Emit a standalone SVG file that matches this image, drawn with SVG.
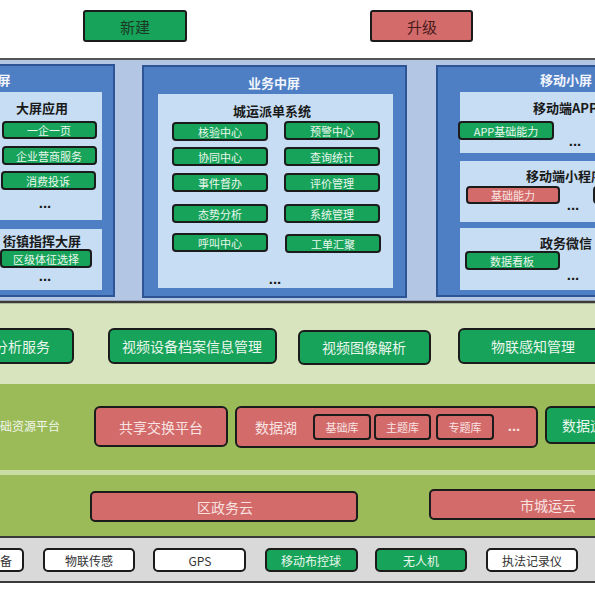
<svg xmlns="http://www.w3.org/2000/svg" width="595" height="595" viewBox="0 0 595 595">
<style>
text{font-family:"Noto Sans CJK SC","Noto Sans",sans-serif;text-anchor:middle;dominant-baseline:central}
.g{fill:#17A35A;stroke:#1b1b1b;stroke-width:2}
.r{fill:#D36B6A;stroke:#1b1b1b;stroke-width:2}
.w{fill:#ffffff;stroke:#1b1b1b;stroke-width:2}
.panel{fill:#4E7EC4;stroke:#2D5596;stroke-width:2}
.inner{fill:#C6DDF3}
.bt{font-size:11px;fill:#EAF7EE}
.bb{font-size:12px;fill:#EAF7EE}
.bl{font-size:14px;fill:#EAF7EE}
.bk{font-size:12px;fill:#333}
.ttl{font-size:13px;font-weight:bold;fill:#1a1a1a}
.pt{font-size:13px;font-weight:bold;fill:#F2F6FC}
text.dots{font-family:"Liberation Sans",Arial,sans-serif;font-size:15px;font-weight:bold;fill:#1a1a1a;dominant-baseline:alphabetic}
</style>
<rect width="595" height="595" fill="#ffffff"/>
<!-- legend -->
<g id="legend-new"><rect class="g" x="84" y="11" width="102" height="30" rx="2"/><text x="135" y="26" style="font-size:15px;fill:#1a3a25">新建</text></g>
<g id="legend-upgrade"><rect class="r" x="371" y="11" width="101" height="30" rx="2"/><text x="422" y="26" style="font-size:15px;fill:#4a1a1a">升级</text></g>

<!-- top section background -->
<rect x="0" y="59" width="595" height="242" fill="#B3C7E5"/>
<line x1="0" y1="59" x2="595" y2="59" stroke="#555" stroke-width="2"/>

<!-- left panel -->
<g id="panel-big">
<rect class="panel" x="-10" y="65" width="124" height="231"/>
<text class="pt" x="4" y="79">屏</text>
<rect class="inner" x="-5" y="92" width="107" height="128"/>
<text class="ttl" x="42" y="107">大屏应用</text>
<g id="n-yqyy"><rect class="g" x="3" y="122" width="93" height="16" rx="3"/><text class="bt" x="49" y="130">一企一页</text></g>
<g id="n-qyys"><rect class="g" x="3" y="147" width="93" height="17" rx="3"/><text class="bt" x="49" y="155.5">企业营商服务</text></g>
<g id="n-xfts"><rect class="g" x="2" y="172" width="93" height="17" rx="3"/><text class="bt" x="48" y="180.5">消费投诉</text></g>
<text class="dots" x="45" y="208">...</text>
<rect class="inner" x="-5" y="229" width="107" height="61"/>
<text class="ttl" x="42" y="240">街镇指挥大屏</text>
<g id="n-qjtz"><rect class="g" x="1" y="250" width="90" height="17" rx="3"/><text class="bt" x="46" y="258.5">区级体征选择</text></g>
<text class="dots" x="45" y="281">...</text>
</g>

<!-- middle panel -->
<g id="panel-mid">
<rect class="panel" x="143" y="66" width="263" height="231"/>
<text class="pt" x="274" y="82">业务中屏</text>
<rect class="inner" x="158" y="94" width="235" height="194"/>
<text class="ttl" x="272" y="110">城运派单系统</text>
<g id="n-hy"><rect class="g" x="173" y="123" width="94" height="17" rx="3"/><text class="bt" x="220" y="131.5">核验中心</text></g>
<g id="n-yj"><rect class="g" x="285" y="122" width="94" height="17" rx="3"/><text class="bt" x="332" y="130.5">预警中心</text></g>
<g id="n-xt"><rect class="g" x="173" y="148" width="94" height="17" rx="3"/><text class="bt" x="220" y="156.5">协同中心</text></g>
<g id="n-cx"><rect class="g" x="285" y="148" width="94" height="17" rx="3"/><text class="bt" x="332" y="156.5">查询统计</text></g>
<g id="n-sj"><rect class="g" x="173" y="174" width="94" height="17" rx="3"/><text class="bt" x="220" y="182.5">事件督办</text></g>
<g id="n-pj"><rect class="g" x="285" y="174" width="94" height="17" rx="3"/><text class="bt" x="332" y="182.5">评价管理</text></g>
<g id="n-ts"><rect class="g" x="173" y="205" width="94" height="17" rx="3"/><text class="bt" x="220" y="213.5">态势分析</text></g>
<g id="n-xtgl"><rect class="g" x="285" y="205" width="94" height="17" rx="3"/><text class="bt" x="332" y="213.5">系统管理</text></g>
<g id="n-hj"><rect class="g" x="173" y="234" width="94" height="17" rx="3"/><text class="bt" x="220" y="242.5">呼叫中心</text></g>
<g id="n-gd"><rect class="g" x="286" y="235" width="94" height="17" rx="3"/><text class="bt" x="333" y="243.5">工单汇聚</text></g>
<text class="dots" x="275" y="284">...</text>
</g>

<!-- right panel -->
<g id="panel-mobile">
<rect class="panel" x="437" y="66" width="170" height="230"/>
<text class="pt" x="540" y="79" style="text-anchor:start">移动小屏</text>
<rect class="inner" x="460" y="92" width="140" height="61"/>
<text class="ttl" x="533" y="107" style="text-anchor:start">移动端APP</text>
<g id="n-app"><rect class="g" x="459" y="122" width="94" height="17" rx="3"/><text class="bt" x="506" y="130.5">APP基础能力</text></g>
<text class="dots" x="575" y="146">...</text>
<rect class="inner" x="460" y="161" width="140" height="61"/>
<text class="ttl" x="526" y="175" style="text-anchor:start">移动端小程序</text>
<g id="n-jcnl"><rect class="r" x="467" y="187" width="92" height="16" rx="3"/><text class="bt" x="513" y="195" style="fill:#F8E3E3">基础能力</text></g>
<rect class="g" x="594" y="187" width="20" height="16" rx="3"/>
<text class="dots" x="573" y="210">...</text>
<rect class="inner" x="460" y="228" width="140" height="62"/>
<text class="ttl" x="540" y="242" style="text-anchor:start">政务微信</text>
<g id="n-sjkb"><rect class="g" x="466" y="252" width="93" height="17" rx="3"/><text class="bt" x="512" y="260.5">数据看板</text></g>
<text class="dots" x="573" y="280">...</text>
</g>

<!-- layer 2 -->
<rect x="0" y="302" width="595" height="82" fill="#D8E4BD"/>
<line x1="0" y1="302" x2="595" y2="302" stroke="#3a3a3a" stroke-width="2.5"/>
<g id="n-fxfw"><rect class="g" x="-10" y="329" width="83" height="34" rx="5"/><text class="bl" x="22" y="346">分析服务</text></g>
<g id="n-spsb"><rect class="g" x="109" y="329" width="167" height="34" rx="5"/><text class="bl" x="192" y="346">视频设备档案信息管理</text></g>
<g id="n-sptx"><rect class="g" x="299" y="331" width="131" height="33" rx="5"/><text class="bl" x="364" y="347">视频图像解析</text></g>
<g id="n-wlgz"><rect class="g" x="459" y="329" width="150" height="34" rx="5"/><text class="bl" x="533" y="346">物联感知管理</text></g>

<!-- layer 3 -->
<rect x="0" y="384" width="595" height="152" fill="#9BBB59"/>
<rect x="0" y="470" width="595" height="5" fill="#C9DCA3"/>
<text x="30" y="425" style="font-size:12px;fill:#F2F6EC">础资源平台</text>
<g id="n-gxjh"><rect class="r" x="95" y="407" width="132" height="39" rx="5"/><text class="bl" x="161" y="426.5" style="fill:#F8E3E3">共享交换平台</text></g>
<g id="n-sjh"><rect class="r" x="236" y="407" width="301" height="40" rx="5"/><text class="bl" x="276" y="427" style="fill:#F8E3E3">数据湖</text>
<g id="n-jck"><rect class="r" x="314" y="415" width="56" height="24" rx="3"/><text class="bt" x="342" y="427" style="fill:#F8E3E3">基础库</text></g>
<g id="n-ztk"><rect class="r" x="375" y="415" width="55" height="24" rx="3"/><text class="bt" x="402.5" y="427" style="fill:#F8E3E3">主题库</text></g>
<g id="n-zhtk"><rect class="r" x="437" y="415" width="56" height="24" rx="3"/><text class="bt" x="465" y="427" style="fill:#F8E3E3">专题库</text></g>
<text class="dots" x="514" y="431" style="fill:#F8E3E3">...</text>
</g>
<g id="n-sjy"><rect class="g" x="546" y="407" width="60" height="36" rx="5"/><text class="bl" x="562" y="425" style="text-anchor:start">数据运</text></g>
<g id="n-qzwy"><rect class="r" x="91" y="492" width="266" height="29" rx="4"/><text class="bl" x="225" y="506.5" style="fill:#F8E3E3">区政务云</text></g>
<g id="n-scyy"><rect class="r" x="430" y="490" width="180" height="29" rx="4"/><text class="bl" x="548" y="504.5" style="fill:#F8E3E3">市城运云</text></g>

<!-- bottom -->
<rect x="0" y="537" width="595" height="45" fill="#D9D9D9"/>
<line x1="0" y1="537" x2="595" y2="537" stroke="#3a3a3a" stroke-width="2"/>
<line x1="0" y1="582" x2="595" y2="582" stroke="#3a3a3a" stroke-width="2"/>
<g id="n-sb"><rect class="w" x="-10" y="549" width="33" height="22" rx="4"/><text class="bk" x="6" y="560">备</text></g>
<g id="n-wlcg"><rect class="w" x="44" y="549" width="90" height="22" rx="4"/><text class="bk" x="89" y="560">物联传感</text></g>
<g id="n-gps"><rect class="w" x="154" y="549" width="91" height="22" rx="4"/><text class="bk" x="200" y="560">GPS</text></g>
<g id="n-ydbk"><rect class="g" x="266" y="549" width="91" height="22" rx="4"/><text class="bb" x="311" y="560">移动布控球</text></g>
<g id="n-wrj"><rect class="g" x="376" y="549" width="90" height="22" rx="4"/><text class="bb" x="421" y="560">无人机</text></g>
<g id="n-zfjl"><rect class="w" x="487" y="549" width="90" height="22" rx="4"/><text class="bk" x="532" y="560">执法记录仪</text></g>
</svg>
